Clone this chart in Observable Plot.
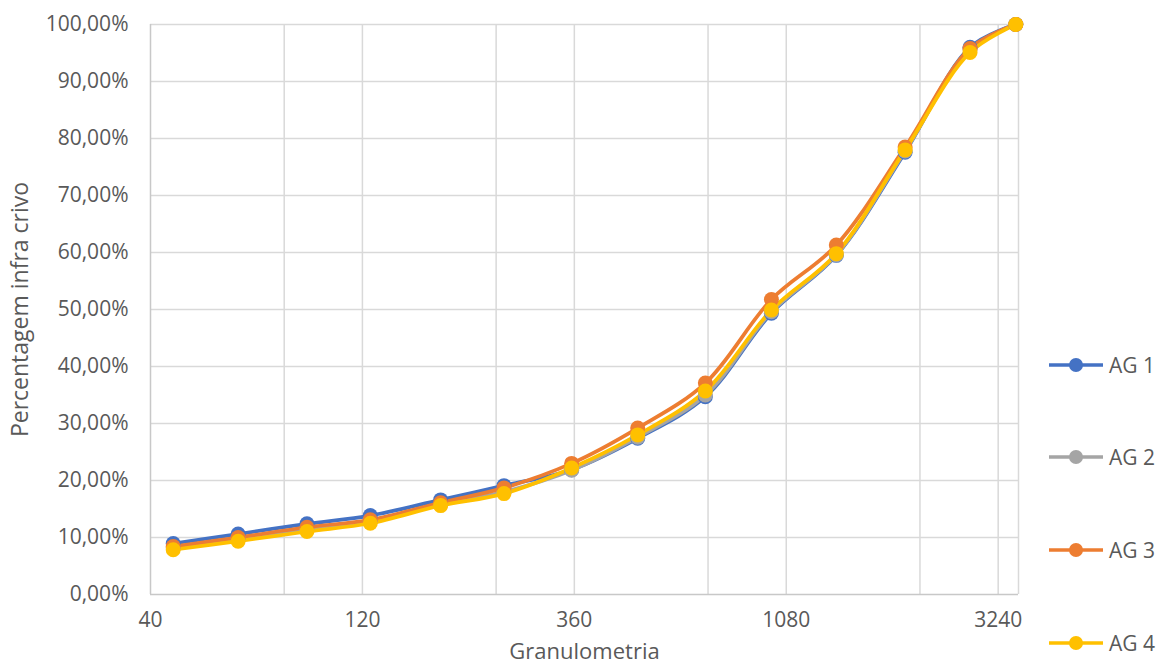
<!DOCTYPE html>
<html>
<head>
<meta charset="utf-8">
<script src="https://cdn.jsdelivr.net/npm/d3@7"></script>
<script src="https://cdn.jsdelivr.net/npm/@observablehq/plot@0.6"></script>
<style>
  body { margin: 0; background: #fff; font-family: "Open Sans", sans-serif; }
  #wrap { position: relative; width: 1158px; height: 664px; }
  #legend { position: absolute; left: 0; top: 0; width: 1158px; height: 664px; pointer-events: none; }
  .item { position: absolute; left: 1048px; display: flex; align-items: center; height: 20px; font-size: 21px; color: #595959; }
  .item svg { margin-right: 5px; }
</style>
</head>
<body>
<div id="wrap"><div id="legend"></div></div>
<script>
const sizes = [45, 63, 90, 125, 180, 250, 355, 500, 710, 1000, 1400, 2000, 2800, 3550];
const seriesNames = ["AG 1", "AG 2", "AG 3", "AG 4"];
const seriesColors = ["#4472C4", "#A5A5A5", "#ED7D31", "#FFC000"];
const ag1 = [8.95, 10.6, 12.4, 13.85, 16.6, 19.1, 21.9, 27.4, 34.7, 49.35, 59.5, 77.6, 96.0, 100];
const ag2 = [8.2, 9.8, 11.5, 12.9, 15.8, 18.0, 21.8, 27.6, 35.0, 49.6, 59.6, 77.8, 95.6, 100];
const ag3 = [8.4, 10.0, 11.8, 13.1, 16.1, 18.7, 23.0, 29.2, 37.1, 51.75, 61.3, 78.5, 95.8, 100];
const ag4 = [7.85, 9.35, 11.05, 12.5, 15.6, 17.7, 22.2, 28.0, 35.7, 49.9, 59.8, 78.0, 95.1, 100];
const xTicks = [40, 120, 360, 1080, 3240];
const xGrid = [80, 120, 240, 360, 720, 1080, 2160, 3240, 3600];
const yTicks = [0, 0.1, 0.2, 0.3, 0.4, 0.5, 0.6, 0.7, 0.8, 0.9, 1.0];

const allSeries = [ag1, ag2, ag3, ag4];
const data = [];
allSeries.forEach((vals, i) => vals.forEach((v, j) => data.push({series: seriesNames[i], size: sizes[j], pct: v / 100})));

const fmt = d => (d * 100).toFixed(2).replace(".", ",") + "%";

const chart = Plot.plot({
  width: 1158,
  height: 664,
  marginLeft: 150,
  marginRight: 140,
  marginTop: 24,
  marginBottom: 70,
  style: {fontFamily: "Open Sans, sans-serif", fontSize: "21px", color: "#595959", background: "#fff"},
  x: {type: "log", domain: [40, 3600]},
  y: {domain: [0, 1]},
  color: {domain: seriesNames, range: seriesColors},
  marks: [
    Plot.ruleY(yTicks.slice(1), {stroke: "#d9d9d9", strokeWidth: 1.5}),
    Plot.ruleX(xGrid, {stroke: "#d9d9d9", strokeWidth: 1.5}),
    Plot.ruleX([40], {stroke: "#c8c8c8", strokeWidth: 1.5}),
    Plot.ruleY([0], {stroke: "#c8c8c8", strokeWidth: 1.5}),
    Plot.axisY({ticks: yTicks, tickFormat: fmt, tickSize: 0, tickPadding: 22, label: null, fill: "#595959", fontSize: 21}),
    Plot.axisX({ticks: xTicks, tickFormat: d => String(d), tickSize: 0, tickPadding: 18, label: null, fill: "#595959", fontSize: 21}),
    Plot.line(data, {x: "size", y: "pct", z: "series", stroke: "series", strokeWidth: 3.75, curve: "catmull-rom"}),
    Plot.dot(data, {x: "size", y: "pct", fill: "series", r: 7.5}),
    Plot.text(["Percentagem infra crivo"], {frameAnchor: "left", dx: -130, rotate: -90, fontSize: 23, fill: "#595959", textAnchor: "middle", lineAnchor: "middle"}),
    Plot.text(["Granulometria"], {frameAnchor: "bottom", dy: 57, fontSize: 22, fill: "#595959", textAnchor: "middle", lineAnchor: "middle"})
  ]
});
document.getElementById("wrap").prepend(chart);

const legendYs = [365, 457, 550, 643];
const legend = document.getElementById("legend");
seriesNames.forEach((name, i) => {
  const div = document.createElement("div");
  div.className = "item";
  div.style.top = (legendYs[i] - 10) + "px";
  div.innerHTML = `<svg width="56" height="20"><line x1="1" x2="55" y1="10" y2="10" stroke="${seriesColors[i]}" stroke-width="3.5"/><circle cx="28" cy="10" r="7" fill="${seriesColors[i]}"/></svg><span>${name}</span>`;
  legend.appendChild(div);
});
</script>
</body>
</html>
